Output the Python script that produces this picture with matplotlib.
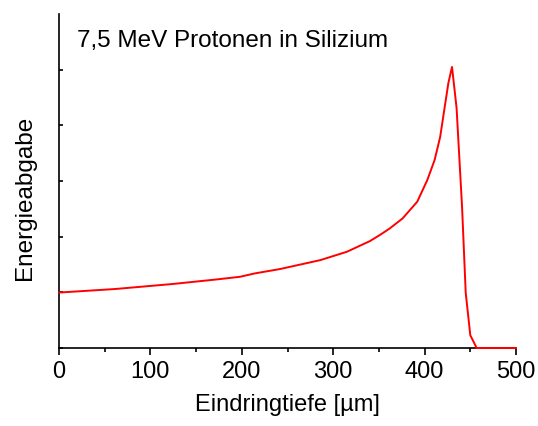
import matplotlib
matplotlib.use("Agg")
import matplotlib.pyplot as plt
from matplotlib.ticker import MultipleLocator

plt.rcParams['font.family'] = ['Liberation Sans', 'DejaVu Sans']

# depth in um, energy loss in arbitrary units
depth = [0, 3, 61, 124, 171, 198, 214, 242, 286, 315, 340, 351, 362, 376,
         392, 403, 411, 417, 422, 426, 430, 435, 441, 445, 450, 457, 500]
energy = [1.0, 1.0, 1.06, 1.15, 1.23, 1.28, 1.34, 1.42, 1.58, 1.73, 1.92, 2.03,
          2.15, 2.33, 2.63, 3.02, 3.38, 3.79, 4.33, 4.76, 5.05, 4.31, 2.53,
          0.99, 0.23, 0.0, 0.0]

fig = plt.figure(figsize=(5.38, 4.26), dpi=100)
ax = fig.add_axes([0.1097, 0.183, 0.8494, 0.784])
ax.plot(depth, energy, color="red", linewidth=1.4, clip_on=False, zorder=5)

ax.set_xlim(0, 500)
ax.set_ylim(0, 6)
ax.spines['top'].set_visible(False)
ax.spines['right'].set_visible(False)
ax.spines['left'].set_linewidth(1.2)
ax.spines['bottom'].set_linewidth(1.2)

ax.xaxis.set_major_locator(MultipleLocator(100))
ax.xaxis.set_minor_locator(MultipleLocator(50))
ax.tick_params(axis="x", which="major", direction="out", length=5, width=1.2, labelsize=17, pad=4)
ax.tick_params(axis="x", which="minor", direction="out", length=3, width=1.2)
ax.set_yticks([0, 1, 2, 3, 4, 5])
ax.tick_params(axis="y", direction="in", length=3, width=1.2, labelleft=False)

ax.set_xlabel("Eindringtiefe [µm]", fontsize=17, labelpad=8)
ax.set_ylabel("Energieabgabe", fontsize=17.5)
ax.yaxis.set_label_coords(-0.05, 0.45)
ax.text(0.04, 0.92, "7,5 MeV Protonen in Silizium", transform=ax.transAxes,
        fontsize=17.5, ha="left", va="center")

fig.savefig("out.png", dpi=100)
